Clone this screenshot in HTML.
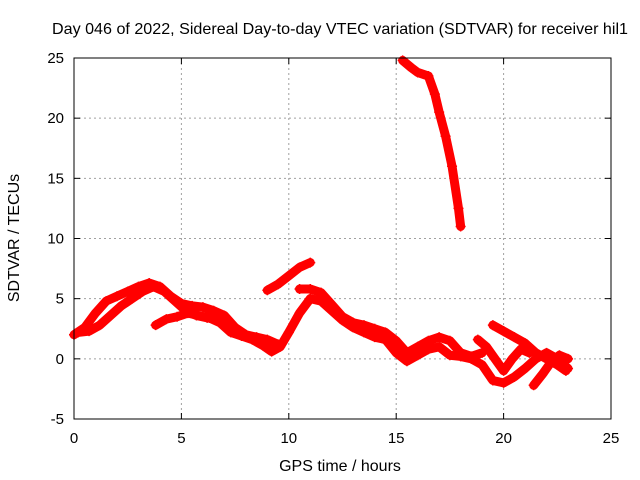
<!DOCTYPE html>
<html><head><meta charset="utf-8"><style>
body{margin:0;background:#fff}
svg{display:block;font-family:"Liberation Sans",sans-serif}
</style></head><body>
<svg id="chart" width="640" height="480">
<text x="340" y="34" text-anchor="middle" font-size="16" textLength="576" lengthAdjust="spacingAndGlyphs">Day 046 of 2022, Sidereal Day-to-day VTEC variation (SDTVAR) for receiver hil1</text>
<text x="340" y="471" text-anchor="middle" font-size="16">GPS time / hours</text>
<text transform="translate(19,238) rotate(-90)" text-anchor="middle" font-size="16">SDTVAR / TECUs</text>
<g id="grid"></g><g id="series"></g><g id="axes"></g>
</svg>
<script>
const xTicks=[0,5,10,15,20,25];
const yTicks=[-5,0,5,10,15,20,25];
const s1x=[0,0.5,1,1.5,2,2.5,3,3.5,4,4.5,5,5.5,6,6.5,7,7.5,8,8.5,9,9.5];
const s1y=[2.0,2.6,3.8,4.8,5.2,5.6,6.0,6.3,6.0,5.2,4.6,4.4,4.3,4.0,3.6,2.6,2.0,1.8,1.6,1.2];
const s2x=[0.2,0.7,1.2,1.7,2.2,2.7,3.2,3.7,4.2,4.7,5.2,5.7,6.2];
const s2y=[2.2,2.3,2.8,3.6,4.4,5.0,5.6,6.0,5.6,4.8,4.0,3.6,3.4];
const s3x=[3.8,4.3,4.8,5.3,5.8,6.3,6.8,7.3,7.8,8.3,8.8,9.2,9.6,10,10.5,11];
const s3y=[2.8,3.3,3.5,3.8,3.6,3.4,3.0,2.2,1.9,1.6,1.1,0.6,1.0,2.2,3.8,5.0];
const s4x=[9,9.5,10,10.5,11];
const s4y=[5.7,6.2,6.9,7.6,8.0];
const s5x=[10.5,11,11.5,12,12.5,13,13.5,14,14.5,15,15.5,16,16.5,17,17.5,18,18.5,19];
const s5y=[5.8,5.8,5.5,4.5,3.5,3.0,2.8,2.5,2.2,1.5,0.5,1.0,1.5,1.8,1.5,0.5,0.2,0.5];
const s6x=[11,11.5,12,12.5,13,13.5,14,14.5,15,15.5,16,16.5,17,17.5,18,18.5,19,19.5,20,20.5,21,21.5,22,22.5,23];
const s6y=[5.0,4.8,4.0,3.2,2.6,2.2,1.8,1.6,0.5,-0.2,0.3,0.8,1.0,0.3,0.2,0.0,-0.5,-1.8,-2.0,-1.5,-0.8,0.0,0.5,0.0,-0.8];
const s7x=[19.5,20,20.5,21,21.5,22,22.5,22.9];
const s7y=[2.8,2.3,1.8,1.3,0.5,0.0,-0.5,-1.0];
const s8x=[18.8,19.2,19.6,20,20.4,20.8,21.2];
const s8y=[1.6,1.0,0.0,-1.0,0.0,0.8,0.5];
const s9x=[21.4,21.8,22.2,22.6,23];
const s9y=[-2.2,-1.3,-0.3,0.3,0.0];
const s10x=[15.3,15.7,16,16.5,16.8,17,17.3,17.6,17.9,18];
const s10y=[24.8,24.2,23.8,23.5,22,20.5,18.5,16,12.5,11];
const seriesX=[s1x,s2x,s3x,s4x,s5x,s6x,s7x,s8x,s9x,s10x];
const seriesY=[s1y,s2y,s3y,s4y,s5y,s6y,s7y,s8y,s9y,s10y];
const L=74,R=611,T=58,B=419;
const X=v=>L+(v-0)/(25-0)*(R-L);
const Y=v=>B-(v+5)/30*(B-T);
const NS="http://www.w3.org/2000/svg";
function mk(tag,a,parent){const e=document.createElementNS(NS,tag);for(const k in a)e.setAttribute(k,a[k]);parent.appendChild(e);return e;}
const grid=document.getElementById('grid'),axes=document.getElementById('axes'),ser=document.getElementById('series');
xTicks.forEach(t=>{
 if(t>0&&t<25){const g=mk('line',{x1:X(t),x2:X(t),y1:T,y2:B,stroke:'#a0a0a0','stroke-dasharray':'2,3'},grid);
 
 }
 mk('line',{x1:X(t),x2:X(t),y1:B,y2:B-6,stroke:'#000'},axes);
 mk('line',{x1:X(t),x2:X(t),y1:T,y2:T+6,stroke:'#000'},axes);
 const tx=mk('text',{x:X(t),y:B+24,'text-anchor':'middle','font-size':'15'},axes);tx.textContent=t;
 
 
});
yTicks.forEach(t=>{
 if(t>-5&&t<25){const g=mk('line',{x1:L,x2:R,y1:Y(t),y2:Y(t),stroke:'#a0a0a0','stroke-dasharray':'2,3'},grid);
 
 }
 mk('line',{x1:L,x2:L+6,y1:Y(t),y2:Y(t),stroke:'#000'},axes);
 mk('line',{x1:R,x2:R-6,y1:Y(t),y2:Y(t),stroke:'#000'},axes);
 const tx=mk('text',{x:L-10,y:Y(t)+5,'text-anchor':'end','font-size':'15'},axes);tx.textContent=t;
 
 
});
const fr=mk('rect',{x:L,y:T,width:R-L,height:B-T,fill:'none',stroke:'#000'},axes);


seriesX.forEach((xs,i)=>{
 const ys=seriesY[i];
 const pts=xs.map((x,j)=>X(x)+','+Y(ys[j])).join(' ');
 const p=mk('polyline',{points:pts,fill:'none',stroke:'#ff0000','stroke-width':'9','stroke-linejoin':'round','stroke-linecap':'round'},ser);
 
 
 xs.forEach((x,j)=>{
  const m=mk('path',{d:`M${X(x)-5},${Y(ys[j])}h10M${X(x)},${Y(ys[j])-5}v10`,stroke:'#ff0000','stroke-width':'1.5'},ser);
  
  
 });
});
</script>
</body></html>
